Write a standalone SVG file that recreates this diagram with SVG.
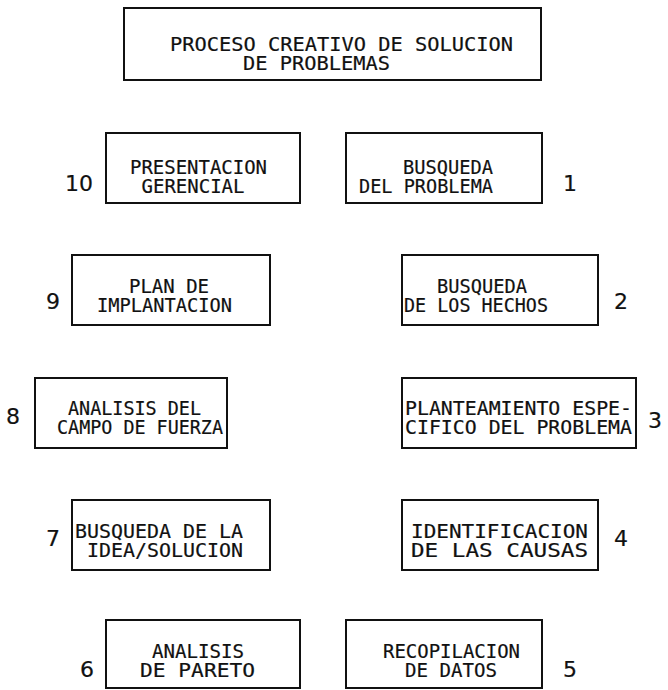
<svg xmlns="http://www.w3.org/2000/svg" width="668" height="690" viewBox="0 0 668 690">
<style>
rect.b{fill:#fff;stroke:#111;stroke-width:2}
text{font-family:"DejaVu Sans Mono",monospace;font-size:19.5px;fill:#111;stroke:#111;stroke-width:0.2}
text.n{font-family:"DejaVu Sans","Liberation Sans",sans-serif;font-size:22px}
text.t{font-size:20px}
</style>
<rect width="668" height="690" fill="#fff"/>
<g id="title">
<rect class="b" x="124" y="8" width="417" height="72"/>
<text class="t" x="170" y="51" textLength="343" lengthAdjust="spacingAndGlyphs">PROCESO CREATIVO DE SOLUCION</text>
<text class="t" x="243" y="70" textLength="147" lengthAdjust="spacingAndGlyphs">DE PROBLEMAS</text>
</g>
<g id="n10">
<rect class="b" x="106" y="133" width="194" height="70"/>
<text x="130" y="174" textLength="137" lengthAdjust="spacingAndGlyphs">PRESENTACION</text>
<text x="141.5" y="193" textLength="103" lengthAdjust="spacingAndGlyphs">GERENCIAL</text>
<text class="n" x="93" y="191" text-anchor="end">10</text>
</g>
<g id="n1">
<rect class="b" x="346" y="133" width="196" height="70"/>
<text x="403" y="174" textLength="90" lengthAdjust="spacingAndGlyphs">BUSQUEDA</text>
<text x="359" y="193" textLength="134" lengthAdjust="spacingAndGlyphs">DEL PROBLEMA</text>
<text class="n" x="563" y="191">1</text>
</g>
<g id="n9">
<rect class="b" x="72" y="255" width="198" height="70"/>
<text x="129" y="293" textLength="80" lengthAdjust="spacingAndGlyphs">PLAN DE</text>
<text x="97" y="312" textLength="135" lengthAdjust="spacingAndGlyphs">IMPLANTACION</text>
<text class="n" x="46" y="309">9</text>
</g>
<g id="n2">
<rect class="b" x="402" y="255" width="196" height="70"/>
<text x="437" y="293" textLength="90" lengthAdjust="spacingAndGlyphs">BUSQUEDA</text>
<text x="404" y="312" textLength="144" lengthAdjust="spacingAndGlyphs">DE LOS HECHOS</text>
<text class="n" x="614" y="309">2</text>
</g>
<g id="n8">
<rect class="b" x="35" y="378" width="192" height="70"/>
<text x="68" y="415" textLength="133" lengthAdjust="spacingAndGlyphs">ANALISIS DEL</text>
<text x="57" y="434" textLength="166" lengthAdjust="spacingAndGlyphs">CAMPO DE FUERZA</text>
<text class="n" x="6" y="424">8</text>
</g>
<g id="n3">
<rect class="b" x="402" y="378" width="234" height="70"/>
<text x="405" y="415" textLength="227" lengthAdjust="spacingAndGlyphs">PLANTEAMIENTO ESPE-</text>
<text x="405" y="434" textLength="227" lengthAdjust="spacingAndGlyphs">CIFICO DEL PROBLEMA</text>
<text class="n" x="648" y="428">3</text>
</g>
<g id="n7">
<rect class="b" x="72" y="500" width="198" height="70"/>
<text x="75" y="538" textLength="168" lengthAdjust="spacingAndGlyphs">BUSQUEDA DE LA</text>
<text x="87" y="557" textLength="156" lengthAdjust="spacingAndGlyphs">IDEA/SOLUCION</text>
<text class="n" x="46" y="546">7</text>
</g>
<g id="n4">
<rect class="b" x="402" y="500" width="196" height="70"/>
<text x="411" y="538" textLength="177" lengthAdjust="spacingAndGlyphs">IDENTIFICACION</text>
<text x="411" y="557" textLength="177" lengthAdjust="spacingAndGlyphs">DE LAS  CAUSAS</text>
<text class="n" x="614" y="546">4</text>
</g>
<g id="n6">
<rect class="b" x="106" y="620" width="194" height="68"/>
<text x="152" y="658" textLength="92" lengthAdjust="spacingAndGlyphs">ANALISIS</text>
<text x="140" y="677" textLength="115" lengthAdjust="spacingAndGlyphs">DE  PARETO</text>
<text class="n" x="80" y="677">6</text>
</g>
<g id="n5">
<rect class="b" x="346" y="620" width="196" height="68"/>
<text x="383" y="658" textLength="137" lengthAdjust="spacingAndGlyphs">RECOPILACION</text>
<text x="405" y="677" textLength="92" lengthAdjust="spacingAndGlyphs">DE DATOS</text>
<text class="n" x="563" y="677">5</text>
</g>
<g id="connectors"></g>
</svg>
